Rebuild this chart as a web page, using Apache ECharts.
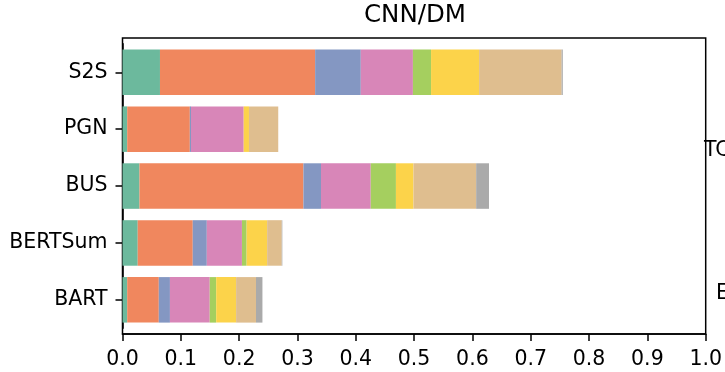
<!DOCTYPE html>
<html><head><meta charset="utf-8">
<script src="https://cdn.jsdelivr.net/npm/echarts@6/dist/echarts.min.js"></script>
<style>html,body{margin:0;padding:0;background:#fff}#c{width:725px;height:372px}</style>
</head><body><div id="c"></div>
<script>
const categories = ['S2S', 'PGN', 'BUS', 'BERTSum', 'BART'];
const xTicks = [0, 0.1, 0.2, 0.3, 0.4, 0.5, 0.6, 0.7, 0.8, 0.9, 1.0];
const seriesNames = ['Type 1', 'Type 2', 'Type 3', 'Type 4', 'Type 5', 'Type 6', 'Type 7', 'Type 8'];
const s1 = [0.064, 0.008, 0.029, 0.026, 0.008];
const s2 = [0.265, 0.107, 0.280, 0.094, 0.054];
const s3 = [0.078, 0.002, 0.030, 0.024, 0.019];
const s4 = [0.089, 0.090, 0.085, 0.060, 0.068];
const s5 = [0.031, 0.000, 0.043, 0.008, 0.011];
const s6 = [0.082, 0.009, 0.030, 0.035, 0.034];
const s7 = [0.141, 0.050, 0.107, 0.025, 0.034];
const s8 = [0.002, 0.000, 0.022, 0.001, 0.011];
const seriesValues = [s1, s2, s3, s4, s5, s6, s7, s8];
const colors = ['#6cb99d', '#f0875e', '#8497c2', '#d886b8', '#a5cf5f', '#fcd34a', '#dfbe8f', '#aaaaaa'];

const FONT = 'DejaVu Sans';
const FS = 20.5;
const chart = echarts.init(document.getElementById('c'), null, {renderer: 'canvas'});
chart.setOption({
  animation: false,
  backgroundColor: '#fff',
  grid: [
    {left: 122.5, right: 17, top: 38, bottom: 38, show: true, borderColor: '#000', borderWidth: 1.5, backgroundColor: 'transparent'},
    {left: 122.5, right: 17, top: 43.8, height: 284.5}
  ],
  xAxis: [
    {gridIndex: 0, type: 'value', min: 0, max: 1, interval: 0.1,
     axisLine: {show: true, lineStyle: {color: '#000', width: 1.5}},
     axisTick: {show: true, inside: false, length: 7, lineStyle: {color: '#000', width: 1.5}},
     axisLabel: {fontFamily: FONT, fontSize: FS, color: '#000', margin: 15,
       formatter: v => { const t = xTicks.find(x => Math.abs(x - v) < 1e-6); return t === undefined ? '' : t.toFixed(1); }},
     splitLine: {show: false}},
    {gridIndex: 1, type: 'value', min: 0, max: 1, show: false}
  ],
  yAxis: [
    {gridIndex: 0, type: 'value', show: false, min: 0, max: 1},
    {gridIndex: 1, type: 'category', data: categories, inverse: true, boundaryGap: true,
     axisLine: {show: true, lineStyle: {color: '#000', width: 1.5}},
     axisTick: {show: true, alignWithLabel: true, length: 7, lineStyle: {color: '#000', width: 1.5}},
     axisLabel: {fontFamily: FONT, fontSize: FS, color: '#000', margin: 15}}
  ],
  graphic: [
    {type: 'text', x: 415, y: 15.5, style: {text: 'CNN/DM', fontFamily: FONT, fontSize: 24.5, fill: '#000', textAlign: 'center', textVerticalAlign: 'middle'}},
    {type: 'text', x: 704, y: 151, style: {text: 'TC', fontFamily: FONT, fontSize: FS, fill: '#000', textAlign: 'left', textVerticalAlign: 'middle'}},
    {type: 'text', x: 716, y: 294, style: {text: 'E', fontFamily: FONT, fontSize: FS, fill: '#000', textAlign: 'left', textVerticalAlign: 'middle'}}
  ],
  series: seriesValues.map((vals, i) => ({
    name: seriesNames[i], type: 'bar', stack: 'total', xAxisIndex: 1, yAxisIndex: 1,
    barWidth: '80%', data: vals, itemStyle: {color: colors[i]}
  }))
});
</script></body></html>
